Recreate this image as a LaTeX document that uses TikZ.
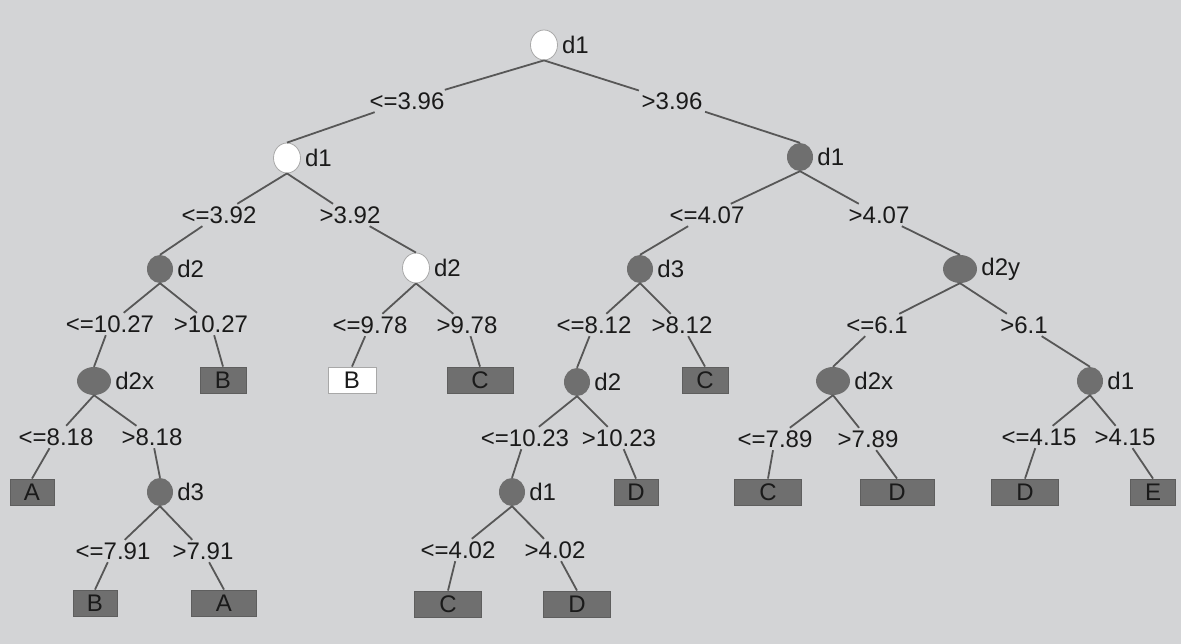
\documentclass[tikz,border=0pt]{standalone}
\usepackage{fontspec}
\setmainfont{Liberation Sans}
\usetikzlibrary{shapes.geometric}
\definecolor{bg}{HTML}{D3D4D6}
\definecolor{nodegray}{HTML}{6F6F6F}
\definecolor{boxedge}{HTML}{5E5E5E}
\definecolor{edgecol}{HTML}{575757}
\definecolor{ink}{HTML}{1A1A1A}
\definecolor{rim}{HTML}{A8A8A8}

\begin{document}
\begin{tikzpicture}[x=1pt,y=-1pt,
  font=\fontsize{24}{27}\selectfont, text=ink,
  split/.style={ellipse, inner sep=0pt, minimum width=26pt, minimum height=28pt},
  whitesplit/.style={split, fill=white, draw=rim, line width=0.8pt, minimum width=27pt, minimum height=30pt},
  graysplit/.style={split, fill=nodegray},
  broad/.style={minimum width=34pt},
  leaf/.style={rectangle, fill=nodegray, draw=boxedge, line width=0.8pt,
    minimum height=26pt, inner sep=0pt, text height=17pt, text depth=0pt},
  whiteleaf/.style={leaf, fill=white, draw=rim},
  cond/.style={inner sep=2.5pt, text height=17pt, text depth=0pt},
  splitname/.style={anchor=west, inner sep=0pt, xshift=4pt},
  link/.style={draw=edgecol, line width=1.8pt}]

\fill[bg] (0,0) rectangle (1181,644);
\useasboundingbox (0,0) rectangle (1181,644);

% split nodes
\node[whitesplit] (r) at (544,45) {};
\node[whitesplit] (a) at (287,158) {};
\node[graysplit] (b) at (800,157) {};
\node[graysplit] (aa) at (160,269) {};
\node[whitesplit] (ab) at (416,268) {};
\node[graysplit] (ba) at (640,269) {};
\node[graysplit,broad] (bb) at (960,269) {};
\node[graysplit,broad] (aaa) at (94,381) {};
\node[graysplit] (baa) at (577,382) {};
\node[graysplit,broad] (bba) at (833,381) {};
\node[graysplit] (bbb) at (1090,381) {};
\node[graysplit] (aaab) at (160,492) {};
\node[graysplit] (baaa) at (512,492) {};

% split attribute names
\node[splitname] at (r.east) {d1};
\node[splitname] at (a.east) {d1};
\node[splitname] at (b.east) {d1};
\node[splitname] at (aa.east) {d2};
\node[splitname] at (ab.east) {d2};
\node[splitname] at (ba.east) {d3};
\node[splitname] at (bb.east) {d2y};
\node[splitname] at (aaa.east) {d2x};
\node[splitname] at (baa.east) {d2};
\node[splitname] at (bba.east) {d2x};
\node[splitname] at (bbb.east) {d1};
\node[splitname] at (aaab.east) {d3};
\node[splitname] at (baaa.east) {d1};

% leaves
\node[leaf, minimum width=46pt] (aab) at (223,380) {B};
\node[whiteleaf, minimum width=48pt] (aba) at (352,380) {B};
\node[leaf, minimum width=66pt] (abb) at (480,380) {C};
\node[leaf, minimum width=46pt] (bab) at (705,380) {C};
\node[leaf, minimum width=44pt] (aaaa) at (32,492) {A};
\node[leaf, minimum width=44pt] (baab) at (636,492) {D};
\node[leaf, minimum width=67pt] (bbaa) at (768,492) {C};
\node[leaf, minimum width=74pt] (bbab) at (897,492) {D};
\node[leaf, minimum width=67pt] (bbba) at (1025,492) {D};
\node[leaf, minimum width=45pt] (bbbb) at (1153,492) {E};
\node[leaf, minimum width=44pt] (aaaba) at (95,603) {B};
\node[leaf, minimum width=65pt] (aaabb) at (224,603) {A};
\node[leaf, minimum width=67pt] (baaaa) at (448,604) {C};
\node[leaf, minimum width=67pt] (baaab) at (577,604) {D};

% branch conditions
\node[cond] (cr1) at (407,101) {<=3.96};
\node[cond] (cr2) at (672,101) {>3.96};
\node[cond] (ca1) at (219,215) {<=3.92};
\node[cond] (ca2) at (350,215) {>3.92};
\node[cond] (cb1) at (707,215) {<=4.07};
\node[cond] (cb2) at (879,215) {>4.07};
\node[cond] (caa1) at (110,324) {<=10.27};
\node[cond] (caa2) at (211,324) {>10.27};
\node[cond] (cab1) at (370,325) {<=9.78};
\node[cond] (cab2) at (467,325) {>9.78};
\node[cond] (cba1) at (594,325) {<=8.12};
\node[cond] (cba2) at (682,325) {>8.12};
\node[cond] (cbb1) at (877,325) {<=6.1};
\node[cond] (cbb2) at (1024,325) {>6.1};
\node[cond] (caaa1) at (56,437) {<=8.18};
\node[cond] (caaa2) at (152,437) {>8.18};
\node[cond] (cbaa1) at (525,438) {<=10.23};
\node[cond] (cbaa2) at (619,438) {>10.23};
\node[cond] (cbba1) at (775,439) {<=7.89};
\node[cond] (cbba2) at (868,439) {>7.89};
\node[cond] (cbbb1) at (1039,437) {<=4.15};
\node[cond] (cbbb2) at (1125,437) {>4.15};
\node[cond] (caaab1) at (113,551) {<=7.91};
\node[cond] (caaab2) at (203,551) {>7.91};
\node[cond] (cbaaa1) at (458,550) {<=4.02};
\node[cond] (cbaaa2) at (555,550) {>4.02};

% branches, each broken by its condition
\draw[link] (r.south) -- (cr1) -- (a.north);
\draw[link] (r.south) -- (cr2) -- (b.north);
\draw[link] (a.south) -- (ca1) -- (aa.north);
\draw[link] (a.south) -- (ca2) -- (ab.north);
\draw[link] (b.south) -- (cb1) -- (ba.north);
\draw[link] (b.south) -- (cb2) -- (bb.north);
\draw[link] (aa.south) -- (caa1) -- (aaa.north);
\draw[link] (aa.south) -- (caa2) -- (aab.north);
\draw[link] (ab.south) -- (cab1) -- (aba.north);
\draw[link] (ab.south) -- (cab2) -- (abb.north);
\draw[link] (ba.south) -- (cba1) -- (baa.north);
\draw[link] (ba.south) -- (cba2) -- (bab.north);
\draw[link] (bb.south) -- (cbb1) -- (bba.north);
\draw[link] (bb.south) -- (cbb2) -- (bbb.north);
\draw[link] (aaa.south) -- (caaa1) -- (aaaa.north);
\draw[link] (aaa.south) -- (caaa2) -- (aaab.north);
\draw[link] (baa.south) -- (cbaa1) -- (baaa.north);
\draw[link] (baa.south) -- (cbaa2) -- (baab.north);
\draw[link] (bba.south) -- (cbba1) -- (bbaa.north);
\draw[link] (bba.south) -- (cbba2) -- (bbab.north);
\draw[link] (bbb.south) -- (cbbb1) -- (bbba.north);
\draw[link] (bbb.south) -- (cbbb2) -- (bbbb.north);
\draw[link] (aaab.south) -- (caaab1) -- (aaaba.north);
\draw[link] (aaab.south) -- (caaab2) -- (aaabb.north);
\draw[link] (baaa.south) -- (cbaaa1) -- (baaaa.north);
\draw[link] (baaa.south) -- (cbaaa2) -- (baaab.north);
\end{tikzpicture}
\end{document}
